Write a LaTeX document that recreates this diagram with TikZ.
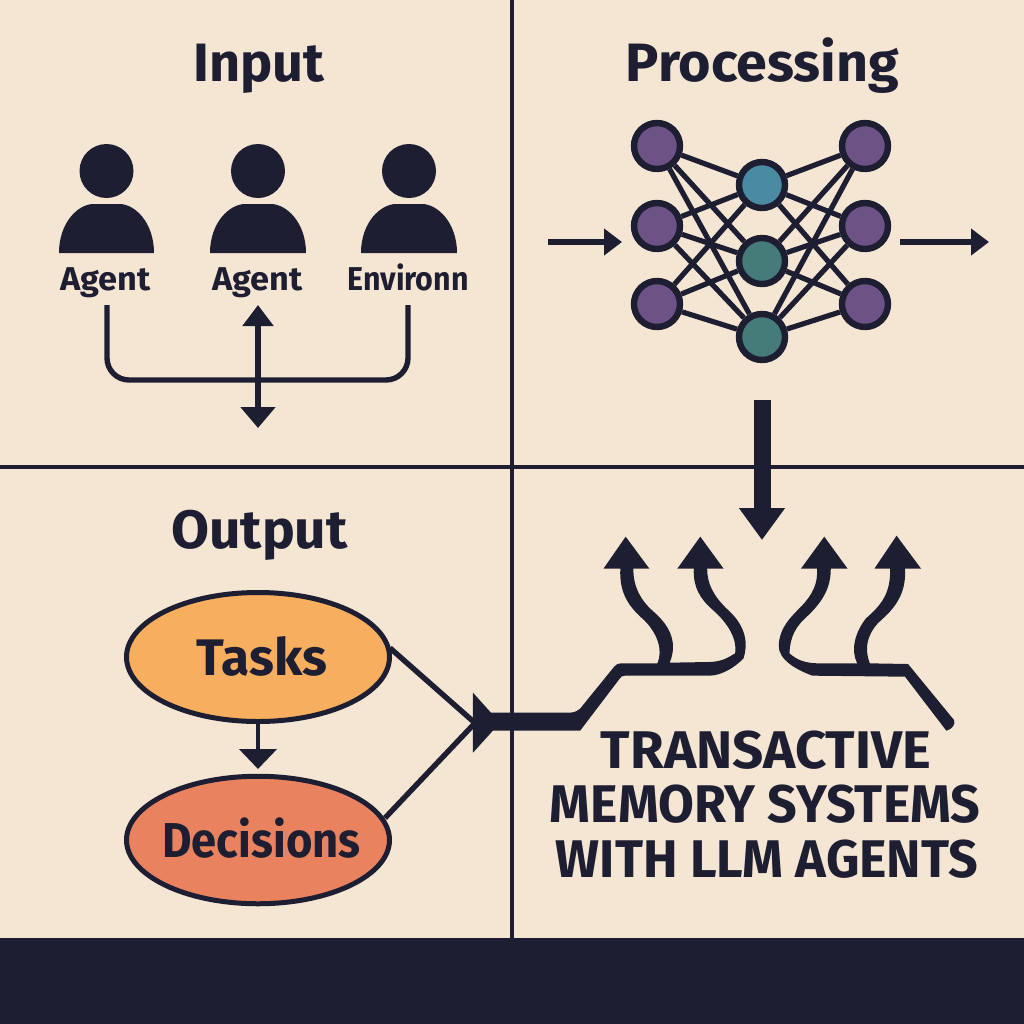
\documentclass[tikz,border=0pt]{standalone}
\usepackage{fontspec}
\setmainfont{Fira Sans}
\usetikzlibrary{arrows.meta,shapes.geometric}
\definecolor{ink}{HTML}{1E1E32}
\definecolor{paper}{HTML}{F5E6D4}
\definecolor{purp}{HTML}{6C5285}
\definecolor{bluec}{HTML}{4A8AA3}
\definecolor{tealc}{HTML}{457B78}
\definecolor{orangec}{HTML}{F7AE5E}
\definecolor{redc}{HTML}{E8825F}
\newcommand{\fs}[1]{\fontsize{#1}{#1}\selectfont}
\tikzset{
 x=0.5pt,y=-0.5pt,
 gridline/.style={ink,line width=1.8pt},
 title/.style={text=ink,font=\fs{27}\bfseries,inner sep=0,anchor=base},
 lab/.style={text=ink,font=\fs{16.5}\bfseries,inner sep=0,anchor=base},
 big/.style={text=ink,font=\fs{26.5}\bfseries,inner sep=0,anchor=base},
 oltext/.style={text=ink,inner sep=0,anchor=base},
 neuron/.style={circle,draw=ink,line width=3.2pt,minimum size=23pt,inner sep=0},
 pnode/.style={neuron,fill=purp},
 link/.style={ink,line width=2.6pt},
 wire/.style={ink,line width=2.7pt},
 oval/.style={ellipse,draw=ink,line width=2.5pt,minimum width=131.5pt,inner sep=0},
 flow/.style={ink,line width=3pt,-{Triangle[length=9pt,width=13pt]}},
}
\newcommand{\personicon}[2]{%
 \fill[ink] (#1,171) circle [radius=27];
 \fill[ink] (#1-#2,253) .. controls (#1-#2,222) and (#1-28,204) .. (#1-13,204) -- (#1+13,204) .. controls (#1+28,204) and (#1+#2,222) .. (#1+#2,253) -- cycle;
}
\begin{document}
\begin{tikzpicture}
\useasboundingbox (0,0) rectangle (1024,1024);
\fill[paper] (0,0) rectangle (1024,1024);
\fill[ink] (0,938) rectangle (1024,1024);
\draw[gridline] (512,0) -- (512,938);
\draw[gridline] (0,467) -- (1024,467);
% titles
\node[title] (tinput) at (259,81) {Input};
\node[title] (tproc) at (762.5,81) {\scalebox{1.03}[1]{Processing}};
\node[title] (toutput) at (259.5,548) {\scalebox{1.02}[1]{Output}};
% people
\personicon{106.5}{47.5}
\personicon{258}{48}
\personicon{409}{48}
\node[lab] (a1) at (105.5,290) {\scalebox{1.04}[1]{Agent}};
\node[lab] (a2) at (257.5,290) {\scalebox{1.04}[1]{Agent}};
\node[lab] (a3) at (408,290) {\scalebox{.92}[1]{Environn}};
\coordinate (w1) at (107,305);
\coordinate (w2) at (408,305);
\coordinate (c1) at (258,305);
\coordinate (c2) at (258,428);
\draw[wire,rounded corners=11pt] (w1) -- (107,380) -- (408,380) -- (w2);
\draw[ink,line width=2.6pt,{Triangle[length=10.5pt,width=15pt]}-{Triangle[length=10.5pt,width=17pt]}] (c1) -- (c2);
% network
\node[pnode] (l1) at (657,146) {};
\node[pnode] (l2) at (657,226) {};
\node[pnode] (l3) at (657,304) {};
\node[pnode] (r1) at (865,146) {};
\node[pnode] (r2) at (865,226) {};
\node[pnode] (r3) at (865,304) {};
\node[neuron,fill=bluec] (m1) at (762,185) {};
\node[neuron,fill=tealc] (m2) at (762,261) {};
\node[neuron,fill=tealc] (m3) at (762,337) {};
\foreach \a in {l1,l2,l3,r1,r2,r3}\foreach \b in {m1,m2,m3}{\draw[link] (\a) -- (\b);}
\coordinate (in1) at (548,242); \coordinate (in2) at (622,242);
\coordinate (out1) at (900,242); \coordinate (out2) at (989,242);
\draw[flow] (in1) -- (in2);
\draw[flow] (out1) -- (out2);
\coordinate (d1) at (762,400); \coordinate (d2) at (762,540);
\draw[ink,line width=8.5pt,-{Triangle[length=16pt,width=22pt]}] (d1) -- (d2);
% ovals
\node[oval,fill=orangec,minimum height=64.5pt] (tasks) at (258,657) {};
\node[oval,fill=redc,minimum height=63.75pt] (dec) at (258,840) {};
\node[oltext,font=\fs{25.7}\bfseries] (ttasks) at (262,675) {Tasks};
\node[oltext,font=\fs{24.5}\bfseries] (tdec) at (261.5,857) {\scalebox{.925}[1]{Decisions}};
\coordinate (tv1) at (258,722); \coordinate (tv2) at (258,769);
\draw[ink,line width=2.4pt,-{Triangle[length=10pt,width=18.5pt]}] (tv1) -- (tv2);
\coordinate (hub) at (475,723);
\coordinate (ts) at (390,648);
\coordinate (ds) at (385,818);
\draw[wire] (ts) -- (hub);
\draw[wire] (ds) -- (hub);
% branching arrows
\begin{scope}[shift={(380,520)},x=0.19133pt,y=-0.16667pt]
\fill[ink] (243,518) -- (290,578) -- (495,578) .. controls (510,578) and (520,570) .. (525,563) -- (612,440) .. controls (618,432) and (622,430) .. (630,430) -- (725,430)
 .. controls (740,390) and (725,340) .. (690,300) .. controls (650,260) and (625,220) .. (628,146) -- (584,146) -- (642,50) -- (704,146) -- (662,146)
 .. controls (662,200) and (680,240) .. (715,275) .. controls (760,320) and (778,370) .. (757,428)
 -- (860,426) .. controls (895,425) and (910,412) .. (928,400)
 .. controls (935,350) and (900,300) .. (870,270) .. controls (835,235) and (818,200) .. (820,146) -- (777,146) -- (837,50) -- (898,146) -- (855,146)
 .. controls (855,190) and (870,225) .. (905,265) .. controls (950,310) and (965,360) .. (950,415) .. controls (925,445) and (890,467) .. (860,467)
 -- (640,467) .. controls (632,467) and (630,470) .. (625,478) -- (523,632) -- (295,632) -- (243,698) -- cycle;
\fill[ink] (1070,400) .. controls (1090,420) and (1110,430) .. (1150,430) -- (1247,430)
 .. controls (1230,390) and (1240,340) .. (1270,295) .. controls (1310,255) and (1335,220) .. (1333,146) -- (1292,146) -- (1350,47) -- (1414,146) -- (1372,146)
 .. controls (1375,210) and (1355,255) .. (1310,300) .. controls (1285,325) and (1260,370) .. (1280,430)
 -- (1380,432) -- (1500,600) .. controls (1505,612) and (1495,628) .. (1480,632) -- (1372,470) -- (1130,467) .. controls (1090,450) and (1040,420) .. (1042,375)
 .. controls (1045,320) and (1075,290) .. (1100,260) .. controls (1130,225) and (1145,190) .. (1142,146) -- (1100,146) -- (1161,50) -- (1222,146) -- (1178,146)
 .. controls (1178,200) and (1160,240) .. (1120,285) .. controls (1085,320) and (1072,350) .. (1070,400) -- cycle;
\end{scope}
\node[big] (b1) at (766,768) {\scalebox{1.03}[1]{TRANSACTIVE}};
\node[big] (b2) at (765,822) {\scalebox{.98}[1]{MEMORY SYSTEMS}};
\node[big] (b3) at (767,877) {\scalebox{.98}[1]{WITH LLM AGENTS}};
\end{tikzpicture}
\end{document}
